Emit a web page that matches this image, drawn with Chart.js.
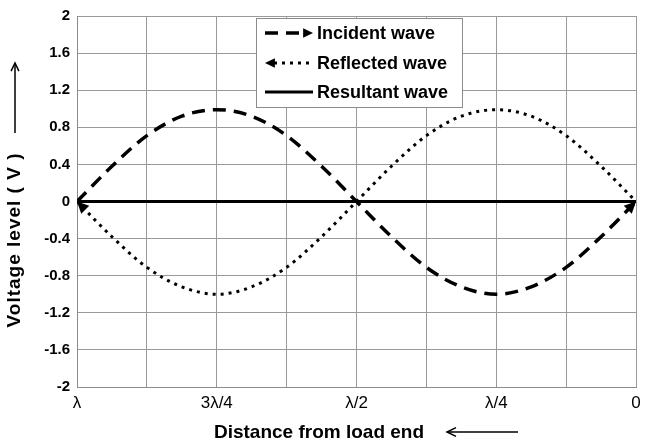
<!DOCTYPE html>
<html>
<head>
<meta charset="utf-8">
<script src="https://cdn.jsdelivr.net/npm/chart.js@4"></script>
<style>
  html, body { margin: 0; padding: 0; background: #fff; }
  #wrap { width: 646px; height: 445px; }
</style>
</head>
<body>
<div id="wrap"><canvas id="waveChart" width="646" height="445"></canvas></div>
<script>
// ---- data ----
const distance = [1, 0.9375, 0.875, 0.8125, 0.75, 0.6875, 0.625, 0.5625, 0.5, 0.4375, 0.375, 0.3125, 0.25, 0.1875, 0.125, 0.0625, 0];
const incident = [0, 0.38, 0.71, 0.92, 0.99, 0.92, 0.71, 0.38, 0, -0.38, -0.71, -0.92, -1, -0.92, -0.71, -0.38, 0];
const reflected = [0, -0.38, -0.71, -0.92, -1, -0.92, -0.71, -0.38, 0, 0.38, 0.71, 0.92, 0.99, 0.92, 0.71, 0.38, 0];
const resultant = [0, 0, 0, 0, 0, 0, 0, 0, 0, 0, 0, 0, 0, 0, 0, 0, 0];

const xGrid = [0, 0.125, 0.25, 0.375, 0.5, 0.625, 0.75, 0.875, 1];
const xLabelPos = [1, 0.75, 0.5, 0.25, 0];
const xLabelText = ['λ', '3λ/4', 'λ/2', 'λ/4', '0'];
const yTicks = [-2, -1.6, -1.2, -0.8, -0.4, 0, 0.4, 0.8, 1.2, 1.6, 2];
const seriesNames = ['Incident wave', 'Reflected wave', 'Resultant wave'];

const FONT = '"Liberation Sans", Arial, sans-serif';

function pts(vals) { return distance.map((d, i) => ({ x: d, y: vals[i] })); }

function arrowHead(ctx, fx, fy, tx, ty, size, filled) {
    const a = Math.atan2(ty - fy, tx - fx);
    ctx.beginPath();
    ctx.moveTo(tx - size * Math.cos(a - 0.45), ty - size * Math.sin(a - 0.45));
    ctx.lineTo(tx, ty);
    ctx.lineTo(tx - size * Math.cos(a + 0.45), ty - size * Math.sin(a + 0.45));
    if (filled) { ctx.closePath(); ctx.fill(); } else { ctx.stroke(); }
}

// arrowheads on the curves, legend box, axis titles with arrows
const extrasPlugin = {
    id: 'extras',
    afterDatasetsDraw(chart) {
        const ctx = chart.ctx;
        ctx.save();
        ctx.fillStyle = '#000'; ctx.strokeStyle = '#000'; ctx.setLineDash([]);
        const inc = chart.getDatasetMeta(0).data; const n = inc.length;
        arrowHead(ctx, inc[n - 2].x, inc[n - 2].y, inc[n - 1].x, inc[n - 1].y, 13, true);
        const ref = chart.getDatasetMeta(1).data;
        arrowHead(ctx, ref[1].x, ref[1].y, ref[0].x, ref[0].y, 13, true);
        ctx.restore();
    },
    afterDraw(chart) {
        const ctx = chart.ctx;
        const ds = chart.data.datasets;
        ctx.save();
        // legend
        const bx = 256, by = 18, bw = 206, bh = 89;
        ctx.fillStyle = '#fff'; ctx.fillRect(bx, by, bw, bh);
        ctx.strokeStyle = '#8c8c8c'; ctx.lineWidth = 1; ctx.strokeRect(bx + 0.5, by + 0.5, bw, bh);
        const rows = [33, 63, 92];
        ctx.font = 'bold 18px ' + FONT; ctx.textBaseline = 'middle'; ctx.textAlign = 'left';
        rows.forEach((y, i) => {
            ctx.strokeStyle = '#000'; ctx.fillStyle = '#000';
            ctx.lineWidth = ds[i].borderWidth;
            ctx.setLineDash(ds[i].borderDash || []);
            ctx.beginPath();
            if (i === 0) { ctx.moveTo(265, y); ctx.lineTo(304, y); }
            else if (i === 1) { ctx.moveTo(274, y); ctx.lineTo(313, y); }
            else { ctx.moveTo(265, y); ctx.lineTo(313, y); }
            ctx.stroke();
            ctx.setLineDash([]);
            if (i === 0) arrowHead(ctx, 300, y, 313, y, 11, true);
            if (i === 1) arrowHead(ctx, 278, y, 265, y, 11, true);
            ctx.fillText(ds[i].label, 317, y + 1);
        });
        // y axis title + arrow
        ctx.lineWidth = 1.5; ctx.strokeStyle = '#000'; ctx.fillStyle = '#000';
        ctx.save();
        ctx.translate(15, 240); ctx.rotate(-Math.PI / 2);
        ctx.font = 'bold 19px ' + FONT; ctx.textAlign = 'center'; ctx.textBaseline = 'middle';
        ctx.letterSpacing = '1px';
        ctx.fillText('Voltage level ( V )', 0, 0);
        ctx.restore();
        ctx.beginPath(); ctx.moveTo(15, 133); ctx.lineTo(15, 63); ctx.stroke();
        arrowHead(ctx, 15, 80, 15, 63, 9, false);
        // x axis title + arrow
        ctx.font = 'bold 19px ' + FONT; ctx.textAlign = 'center'; ctx.textBaseline = 'middle';
        ctx.fillText('Distance from load end', 319, 433);
        ctx.beginPath(); ctx.moveTo(518, 432); ctx.lineTo(447, 432); ctx.stroke();
        arrowHead(ctx, 460, 432, 447, 432, 10, false);
        ctx.restore();
    }
};

new Chart(document.getElementById('waveChart').getContext('2d'), {
    type: 'line',
    data: {
        datasets: [
            { label: seriesNames[0], data: pts(incident), borderColor: '#000', borderWidth: 3.5, borderDash: [13, 8], pointRadius: 0, cubicInterpolationMode: 'monotone', fill: false },
            { label: seriesNames[1], data: pts(reflected), borderColor: '#000', borderWidth: 3, borderDash: [3, 5], pointRadius: 0, cubicInterpolationMode: 'monotone', fill: false },
            { label: seriesNames[2], data: pts(resultant), borderColor: '#000', borderWidth: 3, pointRadius: 0, fill: false }
        ]
    },
    options: {
        responsive: false, animation: false,
        layout: { padding: { left: 0, top: 16, right: 10, bottom: 0 } },
        plugins: { legend: { display: false }, tooltip: { enabled: false } },
        scales: {
            x: {
                type: 'linear', min: 0, max: 1, reverse: true,
                afterBuildTicks: s => { s.ticks = xGrid.map(v => ({ value: v })); },
                afterFit: s => { s.height = 58; },
                grid: { color: '#9a9a9a', lineWidth: 1, drawTicks: false },
                border: { color: '#8c8c8c' },
                ticks: {
                    color: '#000', padding: 6, maxRotation: 0, autoSkip: false,
                    font: { family: FONT, size: 17 },
                    callback: v => { const i = xLabelPos.indexOf(v); return i >= 0 ? xLabelText[i] : ''; }
                }
            },
            y: {
                min: -2, max: 2,
                afterBuildTicks: s => { s.ticks = yTicks.map(v => ({ value: v })); },
                afterFit: s => { s.width = 77; },
                grid: { color: '#9a9a9a', lineWidth: 1, drawTicks: false },
                border: { color: '#8c8c8c' },
                ticks: {
                    color: '#000', padding: 7,
                    font: { family: FONT, size: 15, weight: 'bold' },
                    callback: v => String(Math.round(v * 10) / 10)
                }
            }
        }
    },
    plugins: [extrasPlugin]
});
</script>
</body>
</html>
